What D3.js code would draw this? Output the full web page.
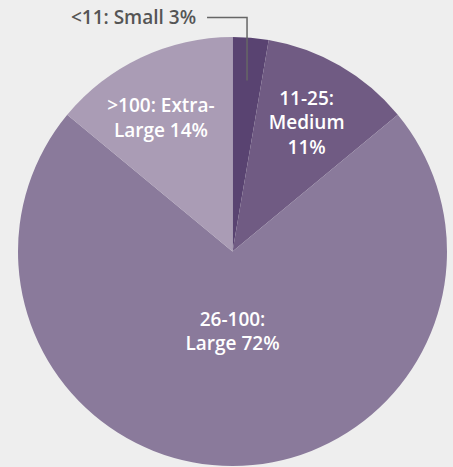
<!DOCTYPE html>
<html>
<head>
<meta charset="utf-8">
<script src="https://cdn.jsdelivr.net/npm/d3@7/dist/d3.min.js"></script>
<style>
html,body{margin:0;padding:0;background:#eeeeee;}
svg{display:block;}
</style>
</head>
<body>
<svg id="chart" width="453" height="467"></svg>
<script>
const categories = ["<11: Small", "11-25: Medium", "26-100: Large", ">100: Extra-Large"];
const values = [2.7, 11.3, 72, 14];
const pctLabels = ["3%", "11%", "72%", "14%"];
const labelLines = [
  ["<11: Small 3%"],
  ["11-25:", "Medium", "11%"],
  ["26-100:", "Large 72%"],
  [">100: Extra-", "Large 14%"]
];
const colors = ["#594371", "#705b83", "#8a7a9b", "#aa9cb5"];

const svg = d3.select("#chart");
const cx = 232.5, cy = 251.5, R = 214.5;

const pie = d3.pie().sort(null).value(d => d)(values);
const arc = d3.arc().innerRadius(0).outerRadius(R);

const g = svg.append("g").attr("transform", `translate(${cx},${cy})`);

g.selectAll("path.slice")
  .data(pie)
  .join("path")
  .attr("class", "slice")
  .attr("d", arc)
  .attr("fill", (d, i) => colors[i]);

const font = "'Open Sans', sans-serif";
const fs = 19, lh = 24.5;

function labelPos(d, i) {
  const mid = (d.startAngle + d.endAngle) / 2;
  let r, dx = 0;
  if (i === 1) r = R * 0.69;
  else if (i === 2) r = R * 0.375;
  else { r = R * 0.685; dx = -9; }
  return [Math.sin(mid) * r + dx, -Math.cos(mid) * r];
}

pie.forEach((d, i) => {
  if (i === 0) return;
  const [x, y] = labelPos(d, i);
  const lines = labelLines[i];
  const t = g.append("text")
    .attr("text-anchor", "middle")
    .attr("fill", "#ffffff")
    .attr("font-family", font)
    .attr("font-weight", 600)
    .attr("font-size", fs);
  const y0 = y - (lines.length - 1) * lh / 2 + 6;
  lines.forEach((ln, k) => {
    t.append("tspan").attr("x", x).attr("y", y0 + k * lh).text(ln);
  });
});

const s = pie[0];
const smid = (s.startAngle + s.endAngle) / 2;
const inner = [Math.sin(smid) * R * 0.8, -Math.cos(smid) * R * 0.8];
const elbowY = -cy + 17.5;
g.append("path")
  .attr("d", `M${inner[0]},${inner[1]} L${inner[0]},${elbowY} L${inner[0] - 40},${elbowY}`)
  .attr("fill", "none")
  .attr("stroke", "#666666")
  .attr("stroke-width", 1.5);
g.append("text")
  .attr("x", inner[0] - 51)
  .attr("y", elbowY + 6.5)
  .attr("text-anchor", "end")
  .attr("fill", "#555555")
  .attr("font-family", font)
  .attr("font-weight", 600)
  .attr("font-size", fs)
  .text(labelLines[0][0]);
</script>
</body>
</html>
